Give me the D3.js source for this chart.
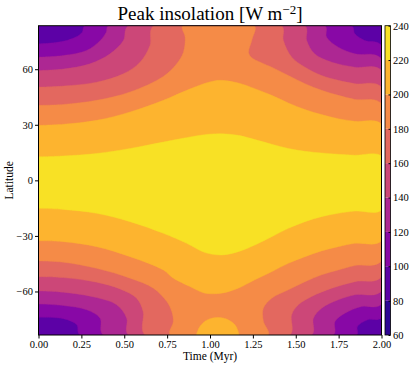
<!DOCTYPE html>
<html>
<head>
<meta charset="utf-8">
<script src="https://cdn.jsdelivr.net/npm/d3@7/dist/d3.min.js"></script>
<style>
body{margin:0;background:#fff}
svg{display:block}
text{font-family:"Liberation Serif","DejaVu Serif",serif;fill:#000}
</style>
</head>
<body>
<svg id="chart" width="416" height="368"></svg>
<script>
'use strict'

// contour levels of the filled plot (W m-2)
var levels = [60,80,100,120,140,160,180,200,220,240];
var xTicks = [0,0.25,0.5,0.75,1,1.25,1.5,1.75,2];
var yTicks = [-60,-30,0,30,60];
var timeRange = [0,2];
var latRange = [-83.5,83.5];

// contour lines: [time (Myr), latitude], left to right
var north100 = [[0,73.7],[0.1,74.4],[0.17,75.7],[0.22,77.5],[0.255,80],[0.27,83.5],[1.826,83.5],[1.845,79.1],[1.903,75.5],[2,72.8]];
var north120 = [[0,66.5],[0.145,67.4],[0.28,70.1],[0.36,75.5],[0.395,80],[0.408,83.5],[1.67,83.5],[1.68,77.3],[1.748,71.9],[1.845,68.3],[2,65.6]];
var north140 = [[0,59.3],[0.145,60.1],[0.3,62.9],[0.417,68.3],[0.495,75.5],[0.524,83.5],[1.554,83.5],[1.564,75.5],[1.61,68.3],[1.71,63.8],[1.845,61.1],[2,59.3]];
var north160 = [[0,50.3],[0.145,50.9],[0.339,53],[0.495,57.5],[0.592,63.8],[0.65,72.8],[0.67,83.5],[1.418,83.5],[1.428,75.5],[1.477,66.5],[1.554,61.1],[1.651,56.6],[1.748,54],[1.845,52.2],[2,50.3]];
var north180 = [[0,40.5],[0.145,41],[0.339,43.2],[0.534,47.7],[0.728,56.1],[0.806,62.9],[0.845,69.2],[0.855,77.3],[0.84,83.5],[1.26,83.5],[1.245,76],[1.225,69],[1.24,66.5],[1.3,63.5],[1.36,61.1],[1.457,56.6],[1.554,52.2],[1.651,48.6],[1.748,45.9],[1.845,43.7],[2,41.4]];
var north200 = [[0,29.7],[0.145,30.3],[0.339,32.4],[0.534,36.9],[0.728,43.2],[0.864,48.6],[0.971,52.4],[1.03,53.8],[1.068,54],[1.165,52.6],[1.262,49.5],[1.36,45.9],[1.457,41.8],[1.554,38.2],[1.651,35.5],[1.748,33.3],[1.845,31.9],[2,30.3]];
var north220 = [[0,12.7],[0.145,13.2],[0.339,14.5],[0.534,17.2],[0.728,20.7],[0.9,23.7],[0.99,24.9],[1.07,25.2],[1.165,24.3],[1.262,22],[1.36,19.5],[1.457,17.2],[1.554,15.7],[1.65,14.8],[1.748,14.1],[1.845,13.6],[2,13]];

var south100 = [[0,-74],[0.145,-74.7],[0.223,-78],[0.242,-83.5],[1.855,-83.5],[1.86,-78.9],[1.92,-75.3],[2,-74]];
var south120 = [[0,-66.8],[0.145,-67.6],[0.281,-69.9],[0.359,-74.4],[0.378,-83.5],[1.719,-83.5],[1.729,-76.2],[1.787,-71.7],[1.884,-68.1],[2,-66.8]];
var south140 = [[0,-59.7],[0.145,-60.4],[0.339,-63.3],[0.456,-67.2],[0.514,-74.4],[0.524,-83.5],[1.593,-83.5],[1.603,-74.4],[1.651,-69],[1.748,-64.5],[1.845,-61.8],[2,-59.7]];
var south160 = [[0,-52],[0.145,-52.5],[0.339,-55],[0.475,-58.6],[0.572,-63.6],[0.61,-70.8],[0.621,-83.5],[1.466,-83.5],[1.476,-72.6],[1.515,-67.2],[1.593,-62.7],[1.71,-58.2],[1.845,-54.7],[2,-52]];
var south180 = [[0,-43.5],[0.145,-44.2],[0.339,-47.5],[0.534,-52.8],[0.67,-58.2],[0.748,-65.4],[0.777,-70.8],[0.786,-76.2],[0.767,-83.5],[1.34,-83.5],[1.311,-76],[1.311,-69],[1.36,-63.6],[1.457,-59.1],[1.554,-54.7],[1.651,-51],[1.748,-48.4],[1.845,-46],[2,-43.5]];
var south200 = [[0,-32.6],[0.145,-33.1],[0.339,-35.8],[0.534,-41.2],[0.728,-48.4],[0.786,-52.8],[0.883,-57.3],[0.971,-60.9],[1.068,-60.9],[1.165,-58.2],[1.262,-53.7],[1.36,-49.3],[1.457,-44.8],[1.554,-41.2],[1.65,-38.1],[1.748,-35.8],[1.845,-34],[2,-32.6]];
var south220 = [[0,-15.1],[0.145,-15.7],[0.339,-17.8],[0.534,-22.3],[0.728,-28.6],[0.864,-34],[0.971,-39],[1.068,-40.3],[1.165,-38.5],[1.262,-34.9],[1.36,-30.4],[1.457,-25.9],[1.554,-22.3],[1.65,-19.6],[1.748,-17.8],[1.845,-16.6],[2,-16]];

// small closed patch above 200 at the south pole around 1 Myr
var island200 = [[0.92,-83.5],[0.94,-79],[0.98,-75.5],[1.04,-74],[1.1,-75],[1.15,-78.5],[1.17,-83.5]];

var regions = [
	{level:100, pts:north100.concat(south100.slice().reverse())},
	{level:120, pts:north120.concat(south120.slice().reverse())},
	{level:140, pts:north140.concat(south140.slice().reverse())},
	{level:160, pts:north160.concat(south160.slice().reverse())},
	{level:180, pts:north180.concat(south180.slice().reverse())},
	{level:200, pts:north200.concat(south200.slice().reverse())},
	{level:200, pts:island200},
	{level:220, pts:north220.concat(south220.slice().reverse())}
];

var plot = {left:38.5, right:381.5, top:25.7, bottom:335};
var svg = d3.select('#chart');

var x = d3.scaleLinear().domain(timeRange).range([plot.left, plot.right]);
var y = d3.scaleLinear().domain(latRange).range([plot.bottom, plot.top]);
var cy = d3.scaleLinear().domain([levels[0], levels[levels.length-1]]).range([plot.bottom, plot.top]);

function bandColor(lo){
	var mid = lo + 10;
	return d3.interpolatePlasma((mid - levels[0])/(levels[levels.length-1] - levels[0]));
}

svg.append('clipPath').attr('id','clip')
	.append('rect')
	.attr('x',plot.left).attr('y',plot.top)
	.attr('width',plot.right-plot.left).attr('height',plot.bottom-plot.top);

var g = svg.append('g').attr('clip-path','url(#clip)');

// lowest band visible in the plot fills everything, higher bands painted on top
g.append('rect')
	.attr('x',plot.left).attr('y',plot.top)
	.attr('width',plot.right-plot.left).attr('height',plot.bottom-plot.top)
	.attr('fill',bandColor(80));

var line = d3.line()
	.x(function(d){return x(d[0]);})
	.y(function(d){return y(d[1]);})
	.curve(d3.curveCatmullRom.alpha(0.5));

g.selectAll('path.band')
	.data(regions)
	.enter().append('path')
	.attr('class','band')
	.attr('d',function(d){return line(d.pts)+'Z';})
	.attr('fill',function(d){return bandColor(d.level);})
	.attr('stroke',function(d){return bandColor(d.level);})
	.attr('stroke-width',0.4);

svg.append('rect')
	.attr('x',plot.left).attr('y',plot.top)
	.attr('width',plot.right-plot.left).attr('height',plot.bottom-plot.top)
	.attr('fill','none').attr('stroke','#000').attr('stroke-width',1);

var xAxis = svg.append('g')
	.attr('transform','translate(0,'+plot.bottom+')')
	.call(d3.axisBottom(x).tickValues(xTicks).tickFormat(d3.format('.2f')).tickSizeInner(3.5).tickSizeOuter(0).tickPadding(2));
var yAxis = svg.append('g')
	.attr('transform','translate('+plot.left+',0)')
	.call(d3.axisLeft(y).tickValues(yTicks).tickSizeInner(3.5).tickSizeOuter(0).tickPadding(2));
[xAxis,yAxis].forEach(function(a){
	a.select('.domain').remove();
	a.selectAll('text').style('font-size','10.5px').style('font-family','"Liberation Serif",serif').attr('fill','#000');
});

// colorbar
var cb = {left:385, right:390.5};
var bands = levels.slice(0,-1);
svg.selectAll('rect.cb')
	.data(bands)
	.enter().append('rect')
	.attr('class','cb')
	.attr('x',cb.left)
	.attr('width',cb.right-cb.left)
	.attr('y',function(d){return cy(d+20);})
	.attr('height',function(d){return cy(d)-cy(d+20);})
	.attr('fill',function(d){return bandColor(d);});
svg.append('rect')
	.attr('x',cb.left).attr('y',plot.top)
	.attr('width',cb.right-cb.left).attr('height',plot.bottom-plot.top)
	.attr('fill','none').attr('stroke','#000').attr('stroke-width',0.8);
var cAxis = svg.append('g')
	.attr('transform','translate('+cb.right+',0)')
	.call(d3.axisRight(cy).tickValues(levels).tickSizeInner(-2).tickSizeOuter(0).tickPadding(2.5));
cAxis.select('.domain').remove();
cAxis.selectAll('text').style('font-size','10.5px').style('font-family','"Liberation Serif",serif').attr('fill','#000');

// titles
var title = svg.append('text')
	.attr('x',(plot.left+plot.right)/2).attr('y',20)
	.attr('text-anchor','middle')
	.style('font-size','19px');
title.append('tspan').text('Peak insolation [W m');
title.append('tspan').attr('dy',-6.5).style('font-size','13px').text('\u22122');
title.append('tspan').attr('dy',6.5).text(']');

svg.append('text')
	.attr('x',(plot.left+plot.right)/2).attr('y',360)
	.attr('text-anchor','middle')
	.style('font-size','11.5px')
	.text('Time (Myr)');

svg.append('text')
	.attr('transform','translate(13,'+((plot.top+plot.bottom)/2)+') rotate(-90)')
	.attr('text-anchor','middle')
	.style('font-size','11.5px')
	.text('Latitude');
</script>
</body>
</html>
